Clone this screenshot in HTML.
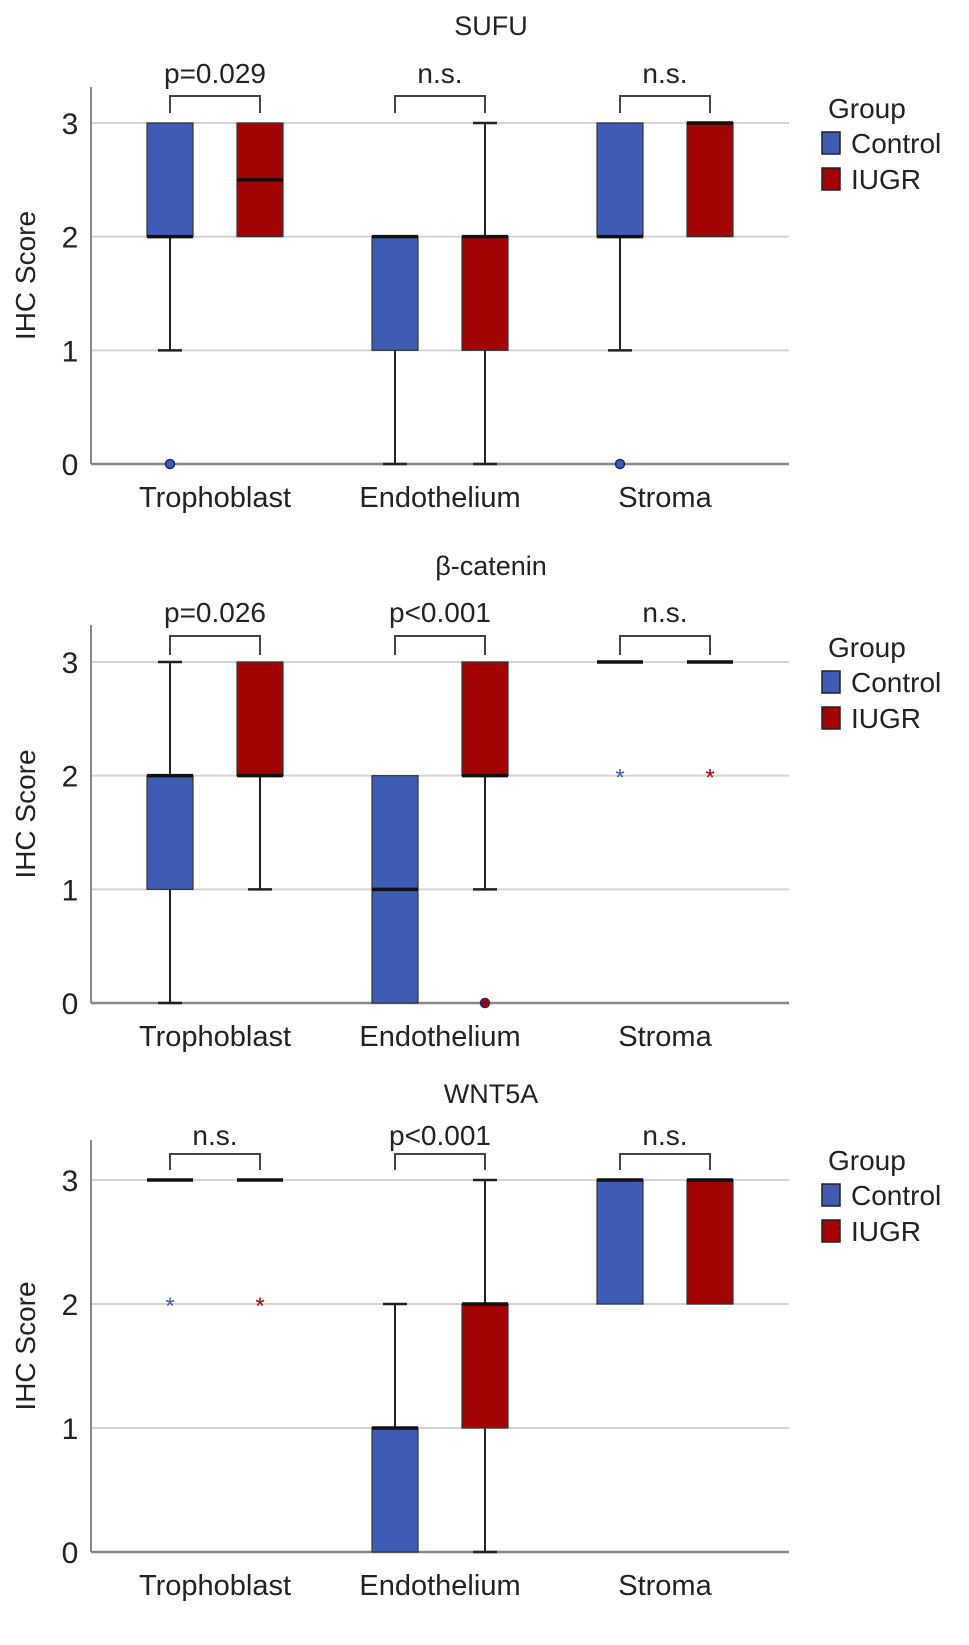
<!DOCTYPE html>
<html><head><meta charset="utf-8"><style>
html,body{margin:0;padding:0;background:#fff;}
svg text{font-family:"Liberation Sans",sans-serif;fill:#222;}
</style></head><body>
<svg id="chart" width="969" height="1640" viewBox="0 0 969 1640" xmlns="http://www.w3.org/2000/svg"></svg>
<script>
// ---- data ----
const categories = ["Trophoblast","Endothelium","Stroma"];
const groups = ["Control","IUGR"];
const panelTitles = ["SUFU","β-catenin","WNT5A"];
const yTicks = [0,1,2,3];
// stats per box: [min, q1, median, q3, max]
const sufuControl = [[1,2,2,3,3],[0,1,2,2,2],[1,2,2,3,3]];
const sufuIUGR    = [[2,2,2.5,3,3],[0,1,2,2,3],[2,2,3,3,3]];
const betaControl = [[0,1,2,2,3],[0,0,1,2,2],[3,3,3,3,3]];
const betaIUGR    = [[1,2,2,3,3],[1,2,2,3,3],[3,3,3,3,3]];
const wntControl  = [[3,3,3,3,3],[0,0,1,1,2],[2,2,3,3,3]];
const wntIUGR     = [[3,3,3,3,3],[0,1,2,2,3],[2,2,3,3,3]];
// outliers: [categoryIndex, value, type]
const sufuOutC = [[0,0,"o"],[2,0,"o"]];
const sufuOutI = [];
const betaOutC = [[2,2,"*"]];
const betaOutI = [[1,0,"o"],[2,2,"*"]];
const wntOutC  = [[0,2,"*"]];
const wntOutI  = [[0,2,"*"]];
const sufuSig = ["p=0.029","n.s.","n.s."];
const betaSig = ["p=0.026","p<0.001","n.s."];
const wntSig  = ["n.s.","p<0.001","n.s."];

// ---- layout ----
const panels = [
  {ctrl:sufuControl, iugr:sufuIUGR, outC:sufuOutC, outI:sufuOutI, sig:sufuSig, top:87, y3:123, y0:464, titleY:25, sigY:73, brTop:96, brBot:113, legY:108},
  {ctrl:betaControl, iugr:betaIUGR, outC:betaOutC, outI:betaOutI, sig:betaSig, top:625, y3:662, y0:1003, titleY:565, sigY:612, brTop:636, brBot:655, legY:647},
  {ctrl:wntControl, iugr:wntIUGR, outC:wntOutC, outI:wntOutI, sig:wntSig, top:1140, y3:1180, y0:1552, titleY:1093, sigY:1135, brTop:1154, brBot:1170, legY:1160}
];
const colors = {Control:"#3f5cb4", IUGR:"#a20303"};
const axisX = 91, axisRight = 789;
const catCenters = [215, 440, 665];
const offset = 45, halfW = 23, capW = 12;

const svg = document.getElementById('chart');
const NS = "http://www.w3.org/2000/svg";
function mk(tag, attrs, parent, text){
  const e = document.createElementNS(NS, tag);
  for (const k in attrs) e.setAttribute(k, attrs[k]);
  if (text !== undefined) e.textContent = text;
  (parent||svg).appendChild(e);
  return e;
}

panels.forEach((p, pi) => {
  const g = mk('g', {});
  
  
  const yS = v => p.y0 + (p.y3 - p.y0) * v / 3;

  const t = mk('text', {x:491, y:p.titleY+10, 'font-size':27, 'text-anchor':'middle'}, g, panelTitles[pi]);
  
  

  yTicks.forEach(v => {
    const gl = mk('line', {x1:axisX, x2:axisRight, y1:yS(v), y2:yS(v), stroke:'#d4d4d4', 'stroke-width':2}, g);
    
    
    const tl = mk('text', {x:70, y:yS(v)+11, 'font-size':30, 'text-anchor':'middle'}, g, String(v));
    
    
  });
  const ya = mk('line', {x1:axisX, x2:axisX, y1:p.top, y2:p.y0, stroke:'#888', 'stroke-width':2}, g);
  
  
  const xa = mk('line', {x1:axisX, x2:axisRight, y1:p.y0, y2:p.y0, stroke:'#888', 'stroke-width':2.5}, g);
  
  
  const yt = mk('text', {x:0, y:0, 'font-size':28, 'text-anchor':'middle', transform:`translate(35,${(p.top+p.y0)/2}) rotate(-90)`}, g, 'IHC Score');
  
  

  categories.forEach((c, ci) => {
    const xl = mk('text', {x:catCenters[ci], y:p.y0+43, 'font-size':29, 'text-anchor':'middle'}, g, c);
    
    

    const xc = catCenters[ci]-offset, xi = catCenters[ci]+offset;
    const br = mk('path', {d:`M${xc},${p.brBot} V${p.brTop} H${xi} V${p.brBot}`, fill:'none', stroke:'#444', 'stroke-width':2}, g);
    
    
    const sl = mk('text', {x:catCenters[ci], y:p.sigY+10, 'font-size':28, 'text-anchor':'middle'}, g, p.sig[ci]);
    
    

    [[p.ctrl[ci], xc, 'Control'], [p.iugr[ci], xi, 'IUGR']].forEach(([s, x, grp]) => {
      const bg = mk('g', {}, g);
      
      
      const [mn, q1, md, q3, mx] = s;
      if (mn < q1) {
        mk('line', {x1:x, x2:x, y1:yS(mn), y2:yS(q1), stroke:'#222', 'stroke-width':2}, bg);
        mk('line', {x1:x-capW, x2:x+capW, y1:yS(mn), y2:yS(mn), stroke:'#222', 'stroke-width':2.5}, bg);
      }
      if (mx > q3) {
        mk('line', {x1:x, x2:x, y1:yS(mx), y2:yS(q3), stroke:'#222', 'stroke-width':2}, bg);
        mk('line', {x1:x-capW, x2:x+capW, y1:yS(mx), y2:yS(mx), stroke:'#222', 'stroke-width':2.5}, bg);
      }
      if (q3 > q1) {
        mk('rect', {x:x-halfW, y:yS(q3), width:2*halfW, height:yS(q1)-yS(q3), fill:colors[grp], stroke:'#333', 'stroke-width':1.2}, bg);
      }
      mk('line', {x1:x-halfW, x2:x+halfW, y1:yS(md), y2:yS(md), stroke:'#111', 'stroke-width':3.5}, bg);
    });
  });

  [[p.outC, -offset, 'Control'], [p.outI, offset, 'IUGR']].forEach(([list, dx, grp]) => {
    list.forEach(([ci, v, type]) => {
      const x = catCenters[ci] + dx, y = yS(v);
      let m;
      if (type === 'o') {
        m = mk('circle', {cx:x, cy:y, r:4.5, fill:colors[grp], stroke:'#1a2a6a', 'stroke-width':1.5}, g);
      } else {
        m = mk('text', {x:x, y:y+10, 'font-size':24, 'text-anchor':'middle', style:'fill:'+colors[grp]}, g, '*');
      }
      
      
    });
  });

  const lg = mk('g', {}, g);
  
  
  mk('text', {x:828, y:p.legY+10, 'font-size':28}, lg, 'Group');
  groups.forEach((grp, gi) => {
    const ly = p.legY + 35 + gi*36;
    const sw = mk('rect', {x:822, y:ly-11, width:18, height:22, fill:colors[grp], stroke:'#222', 'stroke-width':1.5}, lg);
    
    
    const lt = mk('text', {x:851, y:ly+10, 'font-size':28}, lg, grp);
    
    
  });
});
</script>
</body></html>
